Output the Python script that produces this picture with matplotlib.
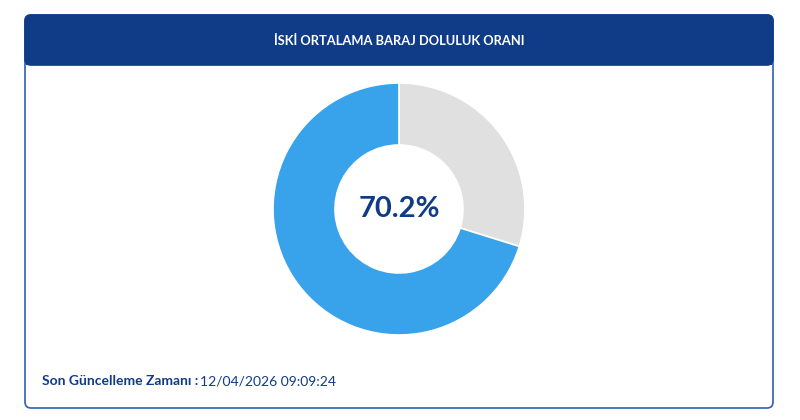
import matplotlib
matplotlib.use("Agg")
import matplotlib.pyplot as plt
from matplotlib.patches import FancyBboxPatch, Rectangle

title = "İSKİ ORTALAMA BARAJ DOLULUK ORANI"
fill_pct = 70.2
slice_values = [100 - fill_pct, fill_pct]
slice_colors = ["#e0e0e0", "#38a3ea"]
update_label = "Son Güncelleme Zamanı :"
update_time = "12/04/2026 09:09:24"

navy = "#0f3b87"
W, H = 800, 420
fig = plt.figure(figsize=(8, 4.2), dpi=100)
bg = fig.add_axes([0, 0, 1, 1])
bg.set_xlim(0, W)
bg.set_ylim(H, 0)
bg.axis("off")

card = FancyBboxPatch((25, 15), 748, 393, boxstyle="round,pad=0,rounding_size=6",
                      fc="white", ec="#2f5fb0", lw=1.2)
bg.add_patch(card)
header = FancyBboxPatch((25, 15), 748, 50, boxstyle="round,pad=0,rounding_size=6",
                        fc=navy, ec=navy, lw=1.2)
bg.add_patch(header)
bg.add_patch(Rectangle((25.6, 50), 746.8, 15, fc=navy, ec="none"))
bg.text(399, 41, title, color="white", ha="center", va="center",
        fontsize=9.3, fontweight="bold", family="Lato")

bg.text(42, 381, update_label, color=navy, ha="left", va="center",
        fontsize=10, fontweight="bold", family="Lato")
bg.text(200, 381, update_time, color=navy, ha="left", va="center",
        fontsize=10, family="Lato")

r_out = 126
ax = fig.add_axes([(399 - r_out) / W, (H - 209 - r_out) / H, 2 * r_out / W, 2 * r_out / H])
ax.pie(slice_values, colors=slice_colors, startangle=90, counterclock=False,
       radius=1.0, wedgeprops=dict(width=1 - 64 / 126, edgecolor="white", linewidth=1.2))
ax.set_xlim(-1, 1)
ax.set_ylim(-1, 1)
ax.set_aspect("auto")
ax.text(0, 0, f"{fill_pct}%", color=navy, ha="center", va="center",
        fontsize=21, fontweight="bold", family="Lato")

fig.savefig("out.png", dpi=100)
